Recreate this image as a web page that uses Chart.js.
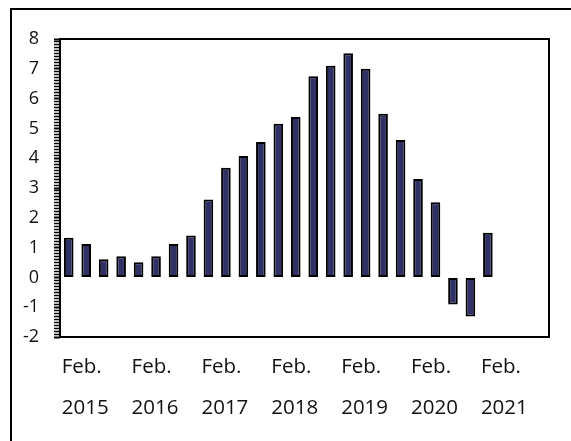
<!DOCTYPE html>
<html>
<head>
<meta charset="utf-8">
<script src="https://cdn.jsdelivr.net/npm/chart.js@4/dist/chart.umd.min.js"></script>
<style>
  body { margin: 0; background: #fff; overflow: hidden; }
  #frame { position: absolute; left: 10px; top: 8px; width: 700px; height: 600px; border: 2px solid #000; }
  #c { position: absolute; left: 0; top: 0; }
</style>
</head>
<body>
<div id="frame"></div>
<canvas id="c" width="571" height="441"></canvas>
<script>
// quarterly, Feb 2015 .. Nov 2021
const months = ['Feb.', 'May', 'Aug.', 'Nov.'];
const years = ['2015', '2016', '2017', '2018', '2019', '2020', '2021'];
const values = [1.33, 1.12, 0.61, 0.71, 0.51, 0.71, 1.12, 1.41, 2.61, 3.68, 4.07, 4.54,
                5.16, 5.38, 6.75, 7.1, 7.52, 7.0, 5.49, 4.61, 3.3, 2.52, -0.91, -1.31, 1.5];
const yMin = -2, yMax = 8;

const labels = [];
years.forEach(y => months.forEach(m => labels.push([m, y])));
const data = labels.map((l, i) => i < values.length ? values[i] : null);

const isMajor = v => Math.abs(v - Math.round(v)) < 1e-6;

// box round the plot area
const plotFrame = {
  id: 'plotFrame',
  afterDraw(chart) {
    const a = chart.chartArea, ctx = chart.ctx;
    ctx.save();
    ctx.strokeStyle = '#000';
    ctx.lineWidth = 2;
    ctx.strokeRect(a.left, a.top, a.right - a.left, a.bottom - a.top);
    ctx.restore();
  }
};

new Chart(document.getElementById('c'), {
  type: 'bar',
  data: {
    labels: labels,
    datasets: [{
      data: data,
      backgroundColor: '#2f3063',
      borderColor: '#000',
      borderWidth: 2,
      borderSkipped: false,
      barPercentage: 0.55,
      categoryPercentage: 1.0
    }]
  },
  options: {
    responsive: false,
    animation: false,
    layout: { padding: { top: 39, right: 22, left: 0, bottom: 0 } },
    plugins: { legend: { display: false }, tooltip: { enabled: false } },
    scales: {
      x: {
        grid: { display: false },
        border: { display: false },
        afterFit: s => { s.height = 104; },
        ticks: {
          autoSkip: false,
          maxRotation: 0,
          align: 'start',
          labelOffset: -7,
          padding: 2,
          color: '#111',
          font: { family: 'Open Sans', size: 20.5, lineHeight: 2.0 },
          callback: (v, i) => i % 4 === 0 ? labels[i] : ''
        }
      },
      y: {
        min: yMin,
        max: yMax,
        border: { display: false },
        afterFit: s => { s.width = 60; },
        grid: {
          drawOnChartArea: false,
          color: '#000',
          tickColor: '#000',
          tickLength: 6,
          tickWidth: ctx => ctx.tick && isMajor(ctx.tick.value) ? 2 : 1.5
        },
        ticks: {
          stepSize: 0.1,
          autoSkip: false,
          padding: 15,
          color: '#111',
          font: { family: 'Open Sans', size: 18 },
          callback: v => isMajor(v) ? String(Math.round(v)) : ''
        }
      }
    }
  },
  plugins: [plotFrame]
});
</script>
</body>
</html>
